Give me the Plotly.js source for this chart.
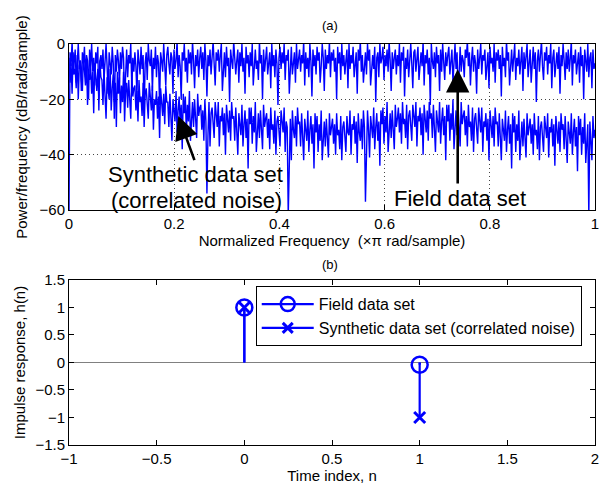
<!DOCTYPE html>
<html>
<head>
<meta charset="utf-8">
<script src="https://cdn.plot.ly/plotly-3.0.1.min.js"></script>
<style>html,body{margin:0;padding:0;background:#fff;}#chart{width:603px;height:487px;}</style>
</head>
<body>
<div id="chart"></div>
<script>
// ---- (a) Power spectral density (dB/rad/sample), 512 bins over [0, 1] (x pi rad/sample)
const fieldPSD = [
-62,-3,-8,1,-11,-5,-2,-14,-4,0,-9,-6,-17,-3,-7,-1,
-12,-4,-6,-20,-2,-8,0,-10,-5,-15,-3,-7,-1,-24,-6,-4,
-9,-2,-13,-5,0,-8,-18,-3,-6,-11,-1,-7,-27,-4,-10,-2,
-6,-14,-3,-9,-1,-5,-21,-8,-2,-12,-4,-7,0,-16,-5,-10,
-3,-8,-19,-2,-6,-11,-1,-9,-4,-25,-7,-3,-13,0,-6,-8,
-2,-17,-5,-9,-1,-12,-4,-7,-22,-3,-6,-10,0,-8,-15,-4,
-1,-7,-11,-3,-5,-18,-2,-9,-6,1,-12,-4,-8,-20,-3,-6,
0,-10,-5,-14,-2,-7,-3,-11,1,-6,-16,-4,-8,-2,-12,-5,
-1,-9,-3,-13,0,-6,-19,-4,-8,-2,-11,-5,1,-7,-15,-3,
-6,-2,-10,-4,0,-17,-7,-3,-12,-1,-8,-5,-21,-2,-6,-9,
1,-4,-11,-6,-2,-14,-3,-8,0,-10,-5,-18,-1,-7,-4,-12,
-3,-8,0,-15,-5,-2,-9,-6,-13,1,-7,-4,-20,-2,-10,-5,
-1,-11,-6,-3,-16,0,-8,-4,-12,-2,-7,-22,-5,-1,-9,-3,
-7,0,-13,-4,-6,-2,-18,-8,-1,-11,-5,-3,-14,0,-9,-6,
-2,-10,-4,-7,1,-15,-3,-9,-5,-12,0,-6,-19,-2,-8,-4,
-11,-1,-6,-3,-14,-8,0,-5,-17,-2,-9,-4,-7,1,-12,-3,
-6,-2,-10,-5,-20,-1,-7,-3,-13,0,-8,-4,-11,-6,-2,-16,
0,-9,-4,-7,-1,-12,-5,-3,-18,-2,-6,1,-10,-4,-14,-7,
-3,-11,0,-6,-2,-15,-8,-4,-9,-1,-21,-5,-3,-12,0,-7,
-5,-1,-13,-4,-8,-2,-10,1,-6,-17,-3,-9,-5,-2,-11,-4,
-8,0,-14,-3,-6,-1,-19,-5,-9,-2,-12,-4,0,-7,-16,-3,
-2,-10,-5,-1,-13,-6,-3,-8,1,-15,-4,-7,-2,-11,-5,-22,
0,-6,-9,-3,-12,-1,-7,-4,-17,-2,-10,0,-5,-13,-3,-8,
-4,-1,-11,-6,-2,-14,-5,0,-9,-3,-20,-7,-1,-10,-4,-6,
-12,-2,-5,1,-8,-3,-15,-6,-1,-10,-4,-7,-18,-2,-9,-5,
0,-11,-4,-6,-2,-13,-8,-3,-16,-1,-7,-5,-10,0,-14,-3,
-6,-2,-9,-4,-19,-1,-8,-5,-12,1,-6,-3,-15,-7,-2,-10,
-4,0,-13,-5,-8,-2,-11,-6,-1,-17,-3,-9,-4,0,-12,-7,
-2,-14,-5,-1,-9,-3,-21,-6,-2,-10,-4,1,-8,-13,-3,-6,
-1,-11,-4,-7,0,-16,-5,-2,-12,-6,-3,-9,-1,-18,-4,-8,
0,-6,-13,-3,-9,-2,-10,-5,1,-15,-4,-7,-2,-11,-6,-3,
-14,-1,-8,-4,-20,-2,-6,-10,0,-12,-5,-3,-16,-2,-9,-7
];
const syntheticPSD = [
-5,-14,-7,-18,-3,-11,-9,-16,-4,-20,-8,-6,-13,-17,-4,-10,
-15,-6,-22,-11,-13,-8,-18,-10,-25,-7,-14,-17,-9,-20,-6,-12,
-13,-22,-10,-17,-27,-12,-15,-20,-9,-24,-16,-11,-21,-14,-30,-10,
-18,-12,-25,-15,-21,-10,-28,-17,-14,-23,-13,-20,-27,-11,-19,-16,
-15,-24,-17,-28,-13,-21,-19,-26,-14,-30,-18,-16,-23,-27,-14,-20,
-24,-15,-31,-20,-22,-17,-27,-19,-34,-16,-23,-26,-18,-29,-15,-21,
-21,-30,-18,-25,-35,-20,-23,-28,-17,-32,-24,-19,-29,-22,-38,-18,
-25,-19,-32,-22,-28,-17,-35,-24,-21,-30,-20,-27,-34,-18,-26,-23,
-22,-31,-24,-35,-20,-28,-54,-33,-21,-37,-25,-23,-30,-34,-21,-27,
-30,-21,-37,-26,-28,-23,-33,-25,-40,-22,-29,-32,-24,-35,-21,-27,
-26,-35,-23,-30,-40,-25,-28,-33,-22,-37,-29,-24,-34,-27,-45,-23,
-29,-23,-36,-26,-32,-21,-39,-28,-25,-34,-24,-31,-38,-22,-30,-27,
-25,-34,-27,-38,-23,-31,-29,-36,-24,-40,-28,-26,-33,-37,-24,-30,
-32,-23,-39,-28,-30,-62,-35,-27,-42,-24,-31,-34,-26,-37,-23,-29,
-28,-37,-25,-32,-42,-27,-30,-35,-24,-39,-31,-26,-36,-29,-45,-25,
-32,-26,-39,-29,-35,-24,-42,-31,-28,-37,-27,-34,-41,-25,-33,-30,
-27,-36,-29,-40,-25,-33,-31,-38,-26,-42,-30,-28,-35,-39,-26,-32,
-33,-24,-40,-29,-31,-26,-36,-28,-43,-25,-32,-35,-27,-38,-24,-30,
-57,-36,-24,-31,-41,-26,-29,-34,-23,-38,-30,-25,-35,-28,-44,-24,
-29,-23,-36,-26,-32,-21,-39,-28,-25,-34,-24,-31,-38,-22,-30,-27,
-23,-32,-25,-36,-21,-29,-27,-34,-22,-38,-26,-24,-31,-35,-22,-28,
-30,-21,-37,-26,-28,-23,-33,-25,-40,-22,-29,-32,-24,-35,-21,-27,
-25,-34,-22,-29,-39,-24,-27,-32,-21,-36,-28,-23,-33,-26,-42,-22,
-28,-22,-35,-25,-31,-20,-38,-27,-24,-33,-23,-30,-37,-21,-29,-26,
-24,-33,-26,-37,-22,-30,-28,-35,-23,-39,-27,-25,-32,-36,-23,-29,
-32,-23,-39,-28,-30,-25,-35,-27,-42,-24,-31,-34,-26,-37,-23,-29,
-28,-37,-25,-32,-42,-27,-30,-35,-24,-39,-31,-26,-36,-29,-45,-25,
-32,-26,-39,-29,-35,-24,-42,-31,-28,-37,-27,-34,-41,-25,-33,-30,
-27,-36,-29,-40,-25,-33,-31,-38,-26,-42,-30,-28,-35,-39,-26,-32,
-34,-25,-41,-30,-32,-27,-37,-29,-44,-26,-33,-36,-28,-39,-25,-31,
-29,-38,-26,-33,-43,-28,-31,-36,-25,-40,-32,-27,-37,-30,-46,-26,
-33,-27,-40,-30,-36,-25,-43,-32,-29,-62,-28,-35,-42,-26,-34,-31
];
const freqStart = 0, freqEnd = 1;

// ---- (b) Impulse responses
const timeIndex = [0, 1];
const fieldH = [1, -0.04];
const syntheticH = [1, -1];

const seriesNames = ["Field data set", "Synthetic data set (correlated noise)"];

// frequency axis built from the bin count
function freqAxis(n){ const f=[]; for(let i=0;i<n;i++) f.push(freqStart + (freqEnd-freqStart)*i/(n-1)); return f; }
// stem geometry: vertical segments from 0 to each value
function stems(n, v){ const x=[], y=[]; for(let i=0;i<n.length;i++){ x.push(n[i],n[i],null); y.push(0,v[i],null);} return {x,y}; }

const blue = '#0000ff';
const FONT = 'Liberation Sans, Arial, Helvetica, sans-serif';

const fs = stems(timeIndex, fieldH);
const ss = stems(timeIndex, syntheticH);

const traces = [
  {x: freqAxis(fieldPSD.length), y: fieldPSD, type:'scatter', mode:'lines', line:{color:blue, width:1.4}, xaxis:'x', yaxis:'y', showlegend:false, hoverinfo:'skip'},
  {x: freqAxis(syntheticPSD.length), y: syntheticPSD, type:'scatter', mode:'lines', line:{color:blue, width:1.4}, xaxis:'x', yaxis:'y', showlegend:false, hoverinfo:'skip'},
  // stems
  {x: fs.x, y: fs.y, type:'scatter', mode:'lines', line:{color:blue, width:2.2}, xaxis:'x2', yaxis:'y2', showlegend:false},
  {x: ss.x, y: ss.y, type:'scatter', mode:'lines', line:{color:blue, width:2.2}, xaxis:'x2', yaxis:'y2', showlegend:false},
  // markers
  {x: timeIndex, y: fieldH, type:'scatter', mode:'markers', marker:{symbol:'circle-open', size:16, color:blue, line:{width:2.5, color:blue}}, xaxis:'x2', yaxis:'y2', showlegend:false},
  {x: timeIndex, y: syntheticH, type:'scatter', mode:'markers', marker:{symbol:'x-thin-open', size:11, color:blue, line:{width:3, color:blue}}, xaxis:'x2', yaxis:'y2', showlegend:false},
  // legend entries
  {x:[null], y:[null], name: seriesNames[0], type:'scatter', mode:'lines+markers', line:{color:blue, width:2.2}, marker:{symbol:'circle-open', size:14, color:blue, line:{width:2.5, color:blue}}, xaxis:'x2', yaxis:'y2'},
  {x:[null], y:[null], name: seriesNames[1], type:'scatter', mode:'lines+markers', line:{color:blue, width:2.2}, marker:{symbol:'x-thin-open', size:10, color:blue, line:{width:3, color:blue}}, xaxis:'x2', yaxis:'y2'}
];

const axCommon = {showline:true, linecolor:'#000', linewidth:1, mirror:'ticks', ticks:'inside', ticklen:5, tickcolor:'#000', tickfont:{size:15, color:'#000'}, zeroline:false};

const layout = {
  width:603, height:487,
  margin:{l:69, r:8, t:44, b:42},
  paper_bgcolor:'#fff', plot_bgcolor:'#fff',
  font:{family:FONT, color:'#000', size:15},
  showlegend:true,
  legend:{x:0.355, y:0.396, xanchor:'left', yanchor:'top', bordercolor:'#000', borderwidth:1, bgcolor:'#fff', font:{size:16}, tracegroupgap:0, itemwidth:52},
  xaxis: Object.assign({}, axCommon, {domain:[0,1], anchor:'y', range:[0,1], tickvals:[0,0.2,0.4,0.6,0.8,1], ticktext:['0','0.2','0.4','0.6','0.8','1'],
    showgrid:true, gridcolor:'#444', griddash:'1px,3px', gridwidth:1,
    title:{text:'Normalized Frequency \u00a0(\u00d7\u03c0 rad/sample)', font:{size:15}, standoff:2}}),
  yaxis: Object.assign({}, axCommon, {domain:[0.586,1], anchor:'x', range:[-60,0], tickvals:[-60,-40,-20,0],
    showgrid:true, gridcolor:'#444', griddash:'1px,3px', gridwidth:1,
    title:{text:'Power/frequency (dB/rad/sample)', font:{size:15}, standoff:8}}),
  xaxis2: Object.assign({}, axCommon, {domain:[0,1], anchor:'y2', range:[-1,2], tickvals:[-1,-0.5,0,0.5,1,1.5,2], ticktext:['\u22121','\u22120.5','0','0.5','1','1.5','2'], showgrid:false,
    title:{text:'Time index, n', font:{size:15}, standoff:4}}),
  yaxis2: Object.assign({}, axCommon, {domain:[0,0.4115], anchor:'x2', range:[-1.5,1.5], tickvals:[-1.5,-1,-0.5,0,0.5,1,1.5], ticktext:['\u22121.5','\u22121','\u22120.5','0','0.5','1','1.5'], showgrid:false,
    zeroline:true, zerolinecolor:'#808080', zerolinewidth:1.2,
    title:{text:'Impulse response, h(n)', font:{size:15}, standoff:6}}),
  annotations:[
    {text:'(a)', xref:'paper', yref:'paper', x:0.496, y:1.045, showarrow:false, font:{size:13}, xanchor:'center', yanchor:'middle'},
    {text:'(b)', xref:'paper', yref:'paper', x:0.496, y:0.449, showarrow:false, font:{size:13}, xanchor:'center', yanchor:'middle'},
    // labels in the spectrum panel
    {text:'Synthetic data set', xref:'x', yref:'y', x:0.2411, y:-47.0, showarrow:false, font:{size:22}, xanchor:'center', yanchor:'middle'},
    {text:'(correlated noise)', xref:'x', yref:'y', x:0.2433, y:-56.4, showarrow:false, font:{size:22}, xanchor:'center', yanchor:'middle'},
    {text:'Field data set', xref:'x', yref:'y', x:0.7428, y:-55.7, showarrow:false, font:{size:22}, xanchor:'center', yanchor:'middle'},
    {text:'', xref:'x', yref:'y', x:0.2078, y:-26.0, axref:'x', ayref:'y', ax:0.2395, ay:-42.5, showarrow:true, arrowhead:2, arrowsize:1.8, arrowwidth:2.6, arrowcolor:'#000'},
    {text:'', xref:'x', yref:'y', x:0.739, y:-9.1, axref:'x', ayref:'y', ax:0.739, ay:-51.0, showarrow:true, arrowhead:2, arrowsize:1.8, arrowwidth:2.6, arrowcolor:'#000'}
  ]
};

Plotly.newPlot('chart', traces, layout, {staticPlot:true, displayModeBar:false});
</script>
</body>
</html>
